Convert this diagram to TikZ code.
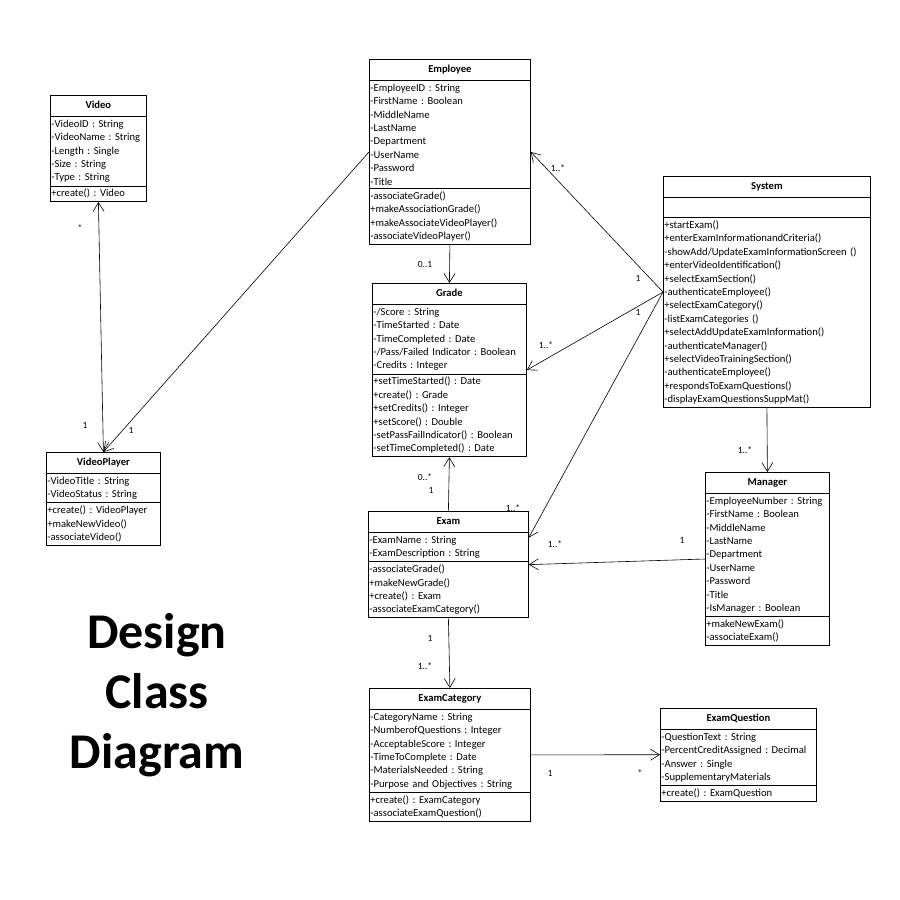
\documentclass[tikz,border=0pt]{standalone}
\usepackage{fontspec}
\setmainfont{Carlito}
\usetikzlibrary{shapes.multipart,arrows.meta}
\frenchspacing

\tikzset{
  cls/.style={draw, rectangle split, rectangle split parts=3, anchor=north west,
    text width=#1, inner xsep=1pt, inner ysep=2.8pt, align=left,
    font=\fontsize{10.6}{13.4}\selectfont, line width=.8pt},
  assoc/.style={-{Straight Barb[length=9pt,width=11pt]}, line width=.6pt},
  assocboth/.style={{Straight Barb[length=9pt,width=11pt]}-{Straight Barb[length=9pt,width=11pt]}, line width=.6pt},
  mult/.style={font=\fontsize{9.5}{11}\selectfont, inner sep=0pt}
}
\newcommand{\clsname}[1]{{\centering\bfseries\rule[-5pt]{0pt}{15pt}#1\par}}

\begin{document}
\begin{tikzpicture}[x=1pt, y=-1pt]
\useasboundingbox (0,0) rectangle (900,900);

\node[cls=94pt] (video) at (50,95) {\clsname{Video}
  \nodepart{two}-VideoID : String\\-VideoName : String\\-Length : Single\\-Size : String\\-Type : String
  \nodepart{three}+create() : Video};

\node[cls=159pt] (emp) at (369,59) {\clsname{Employee}
  \nodepart{two}-EmployeeID : String\\-FirstName : Boolean\\-MiddleName\\-LastName\\-Department\\-UserName\\-Password\\-Title
  \nodepart{three}-associateGrade()\\+makeAssociationGrade()\\+makeAssociateVideoPlayer()\\-associateVideoPlayer()};

\node[cls=205pt] (sys) at (663,176) {\clsname{System}
  \nodepart{two}\strut
  \nodepart{three}+startExam()\\+enterExamInformationandCriteria()\\-showAdd/UpdateExamInformationScreen ()\\+enterVideoIdentification()\\+selectExamSection()\\-authenticateEmployee()\\+selectExamCategory()\\-listExamCategories ()\\+selectAddUpdateExamInformation()\\-authenticateManager()\\+selectVideoTrainingSection()\\-authenticateEmployee()\\+respondsToExamQuestions()\\-displayExamQuestionsSuppMat()};

\node[cls=152pt] (grade) at (372,283) {\clsname{Grade}
  \nodepart{two}-/Score : String\\-TimeStarted : Date\\-TimeCompleted : Date\\-/Pass/Failed Indicator : Boolean\\-Credits : Integer
  \nodepart{three}+setTimeStarted() : Date\\+create() : Grade\\+setCredits() : Integer\\+setScore() : Double\\-setPassFailIndicator() : Boolean\\-setTimeCompleted() : Date};

\node[cls=112pt] (vplayer) at (46,452) {\clsname{VideoPlayer}
  \nodepart{two}-VideoTitle : String\\-VideoStatus : String
  \nodepart{three}+create() : VideoPlayer\\+makeNewVideo()\\-associateVideo()};

\node[cls=158pt] (exam) at (368,511) {\clsname{Exam}
  \nodepart{two}-ExamName : String\\-ExamDescription : String
  \nodepart{three}-associateGrade()\\+makeNewGrade()\\+create() : Exam\\-associateExamCategory()};

\node[cls=122pt] (mgr) at (705,472) {\clsname{Manager}
  \nodepart{two}-EmployeeNumber : String\\-FirstName : Boolean\\-MiddleName\\-LastName\\-Department\\-UserName\\-Password\\-Title\\-IsManager : Boolean
  \nodepart{three}+makeNewExam()\\-associateExam()};

\node[cls=159pt] (ecat) at (369,688) {\clsname{ExamCategory}
  \nodepart{two}-CategoryName : String\\-NumberofQuestions : Integer\\-AcceptableScore : Integer\\-TimeToComplete : Date\\-MaterialsNeeded : String\\-Purpose and Objectives : String
  \nodepart{three}+create() : ExamCategory\\-associateExamQuestion()};

\node[cls=154pt] (equest) at (660,708) {\clsname{ExamQuestion}
  \nodepart{two}-QuestionText : String\\-PercentCreditAssigned : Decimal\\-Answer : Single\\-SupplementaryMaterials
  \nodepart{three}+create() : ExamQuestion};

\node[align=center, font=\fontsize{50}{60}\selectfont\bfseries] (title) at (157,695) {Design\\Class\\Diagram};

% associations
\draw[assocboth] (video.south) -- (vplayer.north);
\draw[assoc] (emp.west) -- (vplayer.north);
\draw[assoc] (emp.south) -- (grade.north);
\draw[assoc] (exam.north) -- (grade.south);
\draw[assoc] (sys.west) -- (emp.east);
\draw[assoc] (sys.west) -- (grade.east);
\draw[assoc] (sys.west) -- ([yshift=27pt]exam.east);
\draw[assoc] (mgr.west) -- (exam.east);
\draw[assoc] (sys.south) -- (mgr.north);
\draw[assoc] (exam.south) -- (ecat.north);
\draw[assoc] (ecat.east) -- (equest.west);

% multiplicities
\node[mult] (mvid) at (80,228) {*};
\node[mult] (mvp1) at (85,425) {1};
\node[mult] (mvp2) at (131,430) {1};
\node[mult] (memp) at (425,264) {0..1};
\node[mult] (mgrd) at (425,477) {0..*};
\node[mult] (mexm) at (431,490) {1};
\node[mult] (memp2) at (558,168) {1..*};
\node[mult] (msys1) at (638,278) {1};
\node[mult] (mgrd2) at (546,345) {1..*};
\node[mult] (msys2) at (638,312) {1};
\node[mult] (mexm2) at (513,508) {1..*};
\node[mult] (mexm3) at (555,544) {1..*};
\node[mult] (mmgr) at (682,540) {1};
\node[mult] (mmgr2) at (745,450) {1..*};
\node[mult] (mexm4) at (430,638) {1};
\node[mult] (mcat) at (425,666) {1..*};
\node[mult] (mcat2) at (550,773) {1};
\node[mult] (mque) at (640,773) {*};
\end{tikzpicture}
\end{document}
